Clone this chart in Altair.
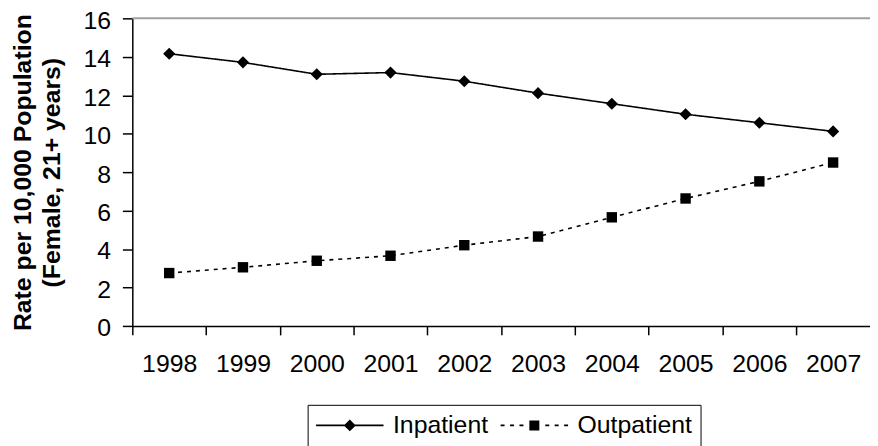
import altair as alt
import pandas as pd

years = ["1998", "1999", "2000", "2001", "2002", "2003", "2004", "2005", "2006", "2007"]
inpatient = [14.16, 13.71, 13.09, 13.18, 12.73, 12.11, 11.56, 11.01, 10.57, 10.12]
outpatient = [2.75, 3.05, 3.39, 3.65, 4.2, 4.65, 5.65, 6.63, 7.52, 8.5]
series = ["Inpatient", "Outpatient"]
y_ticks = [0, 2, 4, 6, 8, 10, 12, 14, 16]
y_title = ["Rate per 10,000 Population", "(Female, 21+ years)"]

rows = []
for i, yr in enumerate(years):
    rows.append({"Year": yr, "Series": series[0], "Rate": inpatient[i]})
    rows.append({"Year": yr, "Series": series[1], "Rate": outpatient[i]})
df = pd.DataFrame(rows)

FONT = "Liberation Sans"
W, H = 743.5, 310
FS = 25

x_enc = alt.X(
    "Year:N",
    sort=years,
    scale=alt.Scale(paddingInner=0, paddingOuter=0),
    axis=alt.Axis(
        title=None, labelAngle=0, tickBand="extent", tickSize=9, tickWidth=1.5,
        tickColor="black", domainColor="black", domainWidth=1.5,
        labelFontSize=FS, labelFont=FONT, labelColor="black", labelPadding=17,
        grid=False,
    ),
)
y_enc = alt.Y(
    "Rate:Q",
    scale=alt.Scale(domain=[0, 16], nice=False),
    axis=alt.Axis(
        values=y_ticks, grid=False, tickSize=10, tickWidth=1.5, tickColor="black",
        domainColor="black", domainWidth=1.5, labelFontSize=FS, labelFont=FONT,
        labelColor="black", labelPadding=12, labelOverlap=False, labelOffset=2,
        title=y_title, titleFont=FONT, titleFontSize=FS, titleFontWeight="bold",
        titleColor="black", titleLineHeight=30, titleX=-103, titleY=H / 2,
        titleBaseline="alphabetic", titleAngle=270, titleAlign="center",
    ),
)

base = alt.Chart(df)

lines = base.mark_line(color="black", strokeWidth=1.6).encode(
    x=x_enc,
    y=y_enc,
    detail="Series:N",
    strokeDash=alt.StrokeDash(
        "Series:N",
        scale=alt.Scale(domain=series, range=[[1, 0], [4, 5]]),
        legend=None,
    ),
)

points = base.mark_point(filled=True, color="black", opacity=1).encode(
    x=x_enc,
    y=y_enc,
    shape=alt.Shape(
        "Series:N",
        scale=alt.Scale(domain=series, range=["diamond", "square"]),
        legend=None,
    ),
    size=alt.Size(
        "Series:N",
        scale=alt.Scale(domain=series, range=[150, 110]),
        legend=None,
    ),
)

top_line = alt.Chart(pd.DataFrame({"Rate": [16]})).mark_rule(
    color="#a0a0a0", strokeWidth=2
).encode(y=y_enc)

# legend glyphs (filled shapes): line segment + marker, wider than the 24px box
diamond_path = (
    "M-2.833,-0.065H2.833V0.065H-2.833Z"
    "M0,-0.5L0.5,0L0,0.5L-0.5,0Z"
)
square_path = (
    "M-2.833,-0.065H-2.5V0.065H-2.833Z"
    "M-2.042,-0.065H-1.708V0.065H-2.042Z"
    "M-1.25,-0.065H-0.917V0.065H-1.25Z"
    "M-0.42,-0.42H0.42V0.42H-0.42Z"
    "M0.917,-0.065H1.25V0.065H0.917Z"
    "M1.708,-0.065H2.042V0.065H1.708Z"
    "M2.5,-0.065H2.833V0.065H2.5Z"
)

legend_def = alt.Legend(
    title=None, orient="none", legendX=176.7, legendY=389.5,
    direction="horizontal", labelFontSize=FS, labelFont=FONT,
    labelColor="black", strokeColor="black", padding=8,
    symbolSize=576, symbolStrokeWidth=0, symbolOpacity=1, symbolOffset=22,
    labelOffset=31, columnPadding=12, labelLimit=300,
)

legend_layer = base.transform_filter("false").mark_point(
    filled=True, size=576, opacity=1,
).encode(
    x=x_enc,
    y=y_enc,
    shape=alt.Shape(
        "Series:N",
        scale=alt.Scale(domain=series, range=[diamond_path, square_path]),
        legend=legend_def,
    ),
    fill=alt.Fill(
        "Series:N",
        scale=alt.Scale(domain=series, range=["black", "black"]),
        legend=legend_def,
    ),
)

chart = alt.layer(lines, points, top_line, legend_layer).resolve_scale(
    shape="independent"
).properties(
    width=W, height=H,
    autosize=alt.AutoSizeParams(type="none"),
    padding={"left": 125.3, "top": 8.7, "right": 0, "bottom": 122},
    background="white",
).configure_view(stroke=None)

chart.save("out.html", embed_options={"renderer": "svg", "actions": False})
